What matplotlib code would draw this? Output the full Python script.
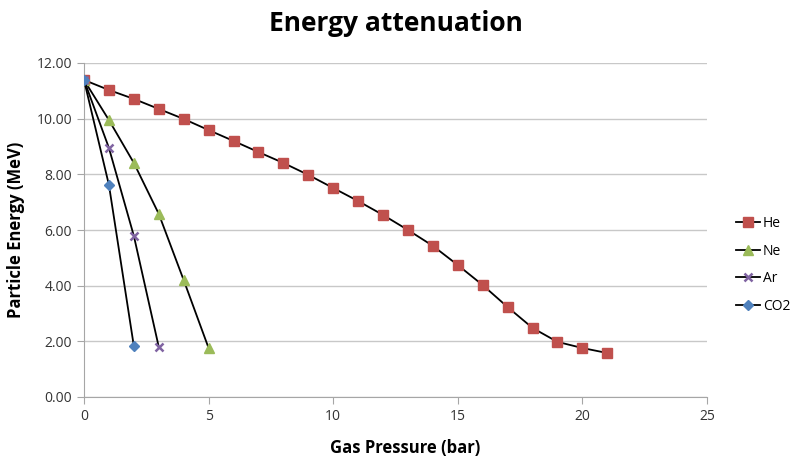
import matplotlib
matplotlib.use("Agg")
import matplotlib.pyplot as plt
from matplotlib.ticker import FormatStrFormatter

plt.rcParams['font.family'] = ['Open Sans', 'DejaVu Sans']

he_x = list(range(0, 22))
he_y = [11.39, 11.03, 10.71, 10.35, 9.99, 9.59, 9.20, 8.80, 8.41, 7.98, 7.51,
        7.04, 6.54, 6.00, 5.43, 4.74, 4.02, 3.23, 2.48, 1.98, 1.76, 1.58]
ne_x = [0, 1, 2, 3, 4, 5]
ne_y = [11.39, 9.95, 8.41, 6.58, 4.20, 1.76]
ar_x = [0, 1, 2, 3]
ar_y = [11.39, 8.95, 5.79, 1.80]
co2_x = [0, 1, 2]
co2_y = [11.39, 7.62, 1.83]

series = [
    ("He", he_x, he_y, "s", "#C0504D", 7),
    ("Ne", ne_x, ne_y, "^", "#9BBB59", 7.5),
    ("Ar", ar_x, ar_y, "x", "#8064A2", 6),
    ("CO2", co2_x, co2_y, "D", "#4F81BD", 5.5),
]

fig = plt.figure(figsize=(7.94, 4.59), dpi=100)
ax = fig.add_axes([84 / 794, 1 - 397 / 459, (707 - 84) / 794, (397 - 63) / 459])

for name, xs, ys, mk, col, ms in series:
    ax.plot(xs, ys, color="black", linewidth=1.3, marker=mk, markersize=ms,
            markerfacecolor=col, markeredgecolor=col, markeredgewidth=1.8 if mk == "x" else 1,
            label=name, zorder=3)

ax.set_xlim(0, 25)
ax.set_ylim(0, 12)
ax.set_xticks(range(0, 26, 5))
ax.set_yticks([0, 2, 4, 6, 8, 10, 12])
ax.yaxis.set_major_formatter(FormatStrFormatter('%.2f'))
ax.grid(axis='y', color="#C8C8C8", linewidth=1)
ax.set_axisbelow(True)
for s in ("top", "right"):
    ax.spines[s].set_visible(False)
for s in ("left", "bottom"):
    ax.spines[s].set_color("#A6A6A6")
ax.tick_params(axis='both', colors="#A6A6A6", labelcolor="#333333", labelsize=10, length=5)
ax.tick_params(axis='x', pad=4)

ax.set_title("Energy attenuation", fontsize=19, fontweight="bold", pad=23)
ax.set_xlabel("Gas Pressure (bar)", fontsize=12, fontweight="bold")
ax.xaxis.set_label_coords(0.516, -0.125)
ax.set_ylabel("Particle Energy (MeV)", fontsize=12, fontweight="bold", labelpad=8)

fig.legend(loc="center left", bbox_to_anchor=(736 / 794, 1 - 265 / 459), frameon=False,
           fontsize=10, handlelength=1.75, labelspacing=0.9, handletextpad=0.2,
           borderpad=0, borderaxespad=0)

fig.savefig("out.png", dpi=100)
